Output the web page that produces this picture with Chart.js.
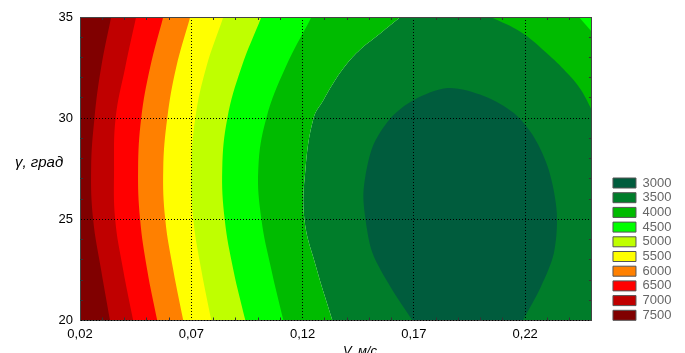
<!DOCTYPE html>
<html>
<head>
<meta charset="utf-8">
<title>Contour V - gamma</title>
<script src="https://cdn.jsdelivr.net/npm/chart.js@4.4.0/dist/chart.umd.min.js"></script>
<style>
  html, body { margin: 0; padding: 0; background: #fff; }
  #wrap { width: 685px; height: 353px; }
</style>
</head>
<body>
<div id="wrap"><canvas id="chart"></canvas></div>
<script>
// Axis ranges and ticks
const xMin = 0.02, xMax = 0.25;
const yMin = 20, yMax = 35;
const xTicks = [0.02, 0.07, 0.12, 0.17, 0.22];
const xTickLabels = ['0,02', '0,07', '0,12', '0,17', '0,22'];
const yTicks = [20, 25, 30, 35];
const yTickLabels = ['20', '25', '30', '35'];
// small marks along the frame
const xMinorTicks = [0.03, 0.04, 0.05, 0.06, 0.08, 0.09, 0.10, 0.11, 0.13, 0.14, 0.15, 0.16,
                     0.18, 0.19, 0.20, 0.21, 0.23, 0.24];
const yMinorTicks = [21, 22, 23, 24, 26, 27, 28, 29, 31, 32, 33, 34];

// Contour levels shown in the legend
const levels = [3000, 3500, 4000, 4500, 5000, 5500, 6000, 6500, 7000, 7500];

// Left bands: V of each contour line at these gamma values
const bandY = [20, 22.5, 25, 27.5, 30, 32.5, 35];
const edge7500 = [0.0335, 0.0295, 0.0259, 0.0250, 0.0265, 0.0295, 0.0340];
const edge7000 = [0.0439, 0.0394, 0.0358, 0.0353, 0.0360, 0.0403, 0.0452];
const edge6500 = [0.0547, 0.0502, 0.0470, 0.0461, 0.0475, 0.0515, 0.0574];
const edge6000 = [0.0664, 0.0619, 0.0583, 0.0574, 0.0592, 0.0632, 0.0695];
const edge5500 = [0.0790, 0.0745, 0.0709, 0.0700, 0.0718, 0.0767, 0.0844];
const edge5000 = [0.0943, 0.0889, 0.0850, 0.0839, 0.0862, 0.0925, 0.1015];
const edge4500 = [0.1114, 0.1060, 0.1015, 0.1001, 0.1037, 0.1123, 0.1240];

// 4000 / 3500 line, west part (V as a function of gamma)
const edge4000wY = [20, 22.6, 25, 27.5, 30, 30.9, 31.75, 32.6, 33.4, 34.2, 35];
const edge4000wX = [0.1334, 0.1262, 0.1208, 0.1213, 0.1249, 0.1294, 0.1339, 0.1393, 0.1460, 0.1550, 0.1640];

// 4000 / 3500 line, north-east part (gamma as a function of V)
const edge4000neX = [0.2045, 0.2180, 0.2306, 0.2396, 0.2450, 0.2504];
const edge4000neY = [35, 34.26, 33.12, 32.14, 31.4, 30.3];

// 4500 corner, top right
const corner4500X = [0.2441, 0.2505];
const corner4500Y = [35, 34.2];

// 3000 core (closed)
const core3000X = [0.1694, 0.1595, 0.1514, 0.1483, 0.1474, 0.1514, 0.1595, 0.1699, 0.1852,
                   0.2014, 0.2149, 0.2239, 0.2306, 0.2342, 0.2329, 0.2270, 0.2189];
const core3000Y = [20, 21.66, 23.34, 24.97, 26.45, 28.57, 30.0, 30.9, 31.49,
                   31.1, 30.25, 29.07, 27.44, 25.32, 23.34, 21.66, 20];

const levelColors = {
    3000: '#005c3d',
    3500: '#007d2a',
    4000: '#00bb00',
    4500: '#00ff00',
    5000: '#bfff00',
    5500: '#ffff00',
    6000: '#ff8000',
    6500: '#ff0000',
    7000: '#c00000',
    7500: '#800000'
};

const FONT = '"Liberation Sans", Arial, sans-serif';
const frameColor = '#444';

function pts(xs, ys) {
    return xs.map((x, i) => ({ x: x, y: ys[i] }));
}

function area(xs, ys, level, fill, axis, tension) {
    return {
        data: pts(xs, ys),
        indexAxis: axis,
        fill: fill,
        backgroundColor: levelColors[level],
        borderWidth: 0,
        pointRadius: 0,
        tension: tension
    };
}

// first dataset is drawn on top
const datasets = [
    area(edge7500, bandY, 7500, { value: xMin }, 'y', 0.4),
    area(edge7000, bandY, 7000, { value: xMin }, 'y', 0.4),
    area(edge6500, bandY, 6500, { value: xMin }, 'y', 0.4),
    area(edge6000, bandY, 6000, { value: xMin }, 'y', 0.4),
    area(edge5500, bandY, 5500, { value: xMin }, 'y', 0.4),
    area(edge5000, bandY, 5000, { value: xMin }, 'y', 0.4),
    area(edge4500, bandY, 4500, { value: xMin }, 'y', 0.4),
    area(corner4500X, corner4500Y, 4500, { value: yMax }, 'x', 0),
    area(core3000X, core3000Y, 3000, 'shape', 'x', 0.3),
    area(edge4000neX, edge4000neY, 4000, { value: yMax }, 'x', 0.4),
    area(edge4000wX, edge4000wY, 4000, { value: xMin }, 'y', 0.4),
    area(edge4000wX, edge4000wY, 3500, { value: xMax }, 'y', 0.4)
];

// horizontal y title and x title
const axisTitles = {
    id: 'axisTitles',
    afterDraw(chart) {
        const ctx = chart.ctx;
        ctx.save();
        ctx.fillStyle = '#000';
        ctx.textBaseline = 'alphabetic';
        ctx.font = 'italic 15px ' + FONT;
        ctx.textAlign = 'left';
        ctx.fillText('γ, град', 15, 167);
        ctx.font = 'italic 13px ' + FONT;
        ctx.textAlign = 'center';
        ctx.fillText('V, м/с', 360, 354.5);
        ctx.restore();
    }
};

// axis that only draws short inward marks (and optionally a frame line)
function markAxis(position, min, max, marks, size, frame) {
    const horizontal = position === 'top' || position === 'bottom';
    return {
        type: 'linear',
        position: position,
        min: min,
        max: max,
        weight: 0,
        afterBuildTicks: (s) => { s.ticks = marks.map(v => ({ value: v })); },
        afterFit: (s) => { if (horizontal) s.height = size; else s.width = size; },
        ticks: { display: false },
        grid: {
            display: true,
            drawOnChartArea: false,
            drawTicks: true,
            tickLength: -3,
            tickColor: '#333',
            tickWidth: 1,
            z: 1
        },
        border: { display: frame, color: frameColor, z: 1 }
    };
}

new Chart(document.getElementById('chart'), {
    type: 'line',
    data: { datasets: datasets },
    options: {
        responsive: true,
        maintainAspectRatio: false,
        animation: false,
        events: [],
        layout: { padding: { top: 0, left: 0, right: 3.6, bottom: 0 } },
        plugins: {
            tooltip: { enabled: false },
            legend: {
                position: 'right',
                align: 'start',
                onClick: null,
                // empty title only pushes the list down to the bottom of the plot
                title: { display: true, text: ' ', font: { size: 12 }, padding: { top: 160.4, bottom: 0 } },
                labels: {
                    boxWidth: 23,
                    boxHeight: 10,
                    padding: 1.7,
                    color: '#111',
                    font: { size: 13, family: FONT },
                    generateLabels: () => levels.map(l => ({
                        text: String(l),
                        fillStyle: levelColors[l],
                        strokeStyle: '#555',
                        lineWidth: 1,
                        hidden: false
                    }))
                }
            }
        },
        scales: {
            x: {
                type: 'linear',
                position: 'bottom',
                weight: 1,
                min: xMin,
                max: xMax,
                afterBuildTicks: (s) => { s.ticks = xTicks.map(v => ({ value: v })); },
                afterFit: (s) => { s.height = 32.5; },
                ticks: {
                    autoSkip: false,
                    maxRotation: 0,
                    padding: 6,
                    color: '#000',
                    font: { size: 13, family: FONT },
                    callback: (v) => xTickLabels[xTicks.indexOf(v)]
                },
                grid: { color: '#000', lineWidth: 1, drawTicks: false, z: 1 },
                border: { color: frameColor, dash: [1, 2], z: 1 }
            },
            y: {
                type: 'linear',
                position: 'left',
                weight: 1,
                min: yMin,
                max: yMax,
                afterBuildTicks: (s) => { s.ticks = yTicks.map(v => ({ value: v })); },
                afterFit: (s) => { s.width = 80; },
                ticks: {
                    padding: 7,
                    color: '#000',
                    font: { size: 13, family: FONT },
                    callback: (v) => yTickLabels[yTicks.indexOf(v)]
                },
                grid: { color: '#000', lineWidth: 1, drawTicks: false, z: 1 },
                border: { color: frameColor, dash: [1, 2], z: 1 }
            },
            x2: markAxis('top', xMin, xMax, xMinorTicks, 17, true),
            y2: markAxis('right', yMin, yMax, yMinorTicks, 19.3, true),
            x3: markAxis('bottom', xMin, xMax, xMinorTicks, 0, false),
            y3: markAxis('left', yMin, yMax, yMinorTicks, 0, false)
        }
    },
    plugins: [axisTitles]
});
</script>
</body>
</html>
